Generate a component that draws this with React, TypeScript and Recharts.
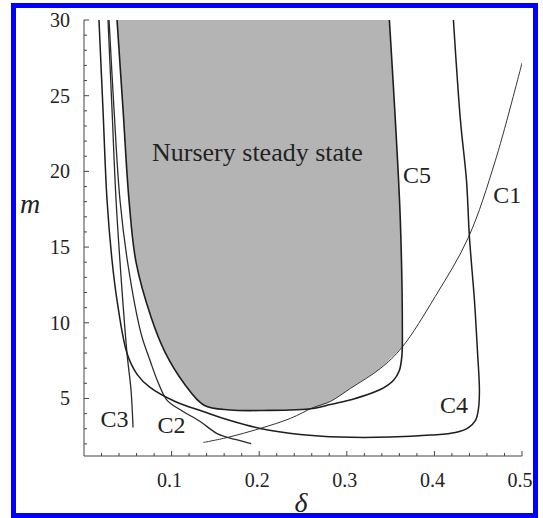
import React from 'react';
import { ComposedChart, Line, Area, XAxis, YAxis, ReferenceDot } from 'recharts';

// axis ticks
const xTicks = [0.02, 0.04, 0.06, 0.08, 0.1, 0.12, 0.14, 0.16, 0.18, 0.2, 0.22, 0.24, 0.26, 0.28, 0.3, 0.32, 0.34, 0.36, 0.38, 0.4, 0.42, 0.44, 0.46, 0.48, 0.5];
const xMajor = [0.1, 0.2, 0.3, 0.4, 0.5];
const xMajorLabels = ['0.1', '0.2', '0.3', '0.4', '0.5'];
const yTicks = [2, 3, 4, 5, 6, 7, 8, 9, 10, 11, 12, 13, 14, 15, 16, 17, 18, 19, 20, 21, 22, 23, 24, 25, 26, 27, 28, 29, 30];
const yMajor = [5, 10, 15, 20, 25, 30];
const yMajorLabels = ['5', '10', '15', '20', '25', '30'];

// curves (delta, m)
const c1 = [
  { d: 0.136, m: 2.09 }, { d: 0.1634, m: 2.42 }, { d: 0.2011, m: 3.02 }, { d: 0.2354, m: 3.68 },
  { d: 0.2617, m: 4.4 }, { d: 0.2811, m: 4.8 }, { d: 0.304, m: 5.66 }, { d: 0.3383, m: 6.98 },
  { d: 0.3629, m: 8.37 }, { d: 0.4011, m: 11.75 }, { d: 0.4389, m: 15.65 }, { d: 0.4697, m: 20.74 },
  { d: 0.5, m: 27.16 },
];
const c2 = [
  { d: 0.0286, m: 30 }, { d: 0.0343, m: 24.05 }, { d: 0.0411, m: 18.09 }, { d: 0.0503, m: 13.8 },
  { d: 0.0651, m: 9.3 }, { d: 0.0754, m: 7.51 }, { d: 0.0846, m: 6.06 }, { d: 0.0949, m: 4.87 },
  { d: 0.1131, m: 4.14 }, { d: 0.1326, m: 3.48 }, { d: 0.152, m: 2.68 }, { d: 0.1726, m: 2.29 },
  { d: 0.1909, m: 2.02 },
];
const c3 = [
  { d: 0.0274, m: 30 }, { d: 0.032, m: 24.05 }, { d: 0.0366, m: 18.09 }, { d: 0.0434, m: 12.14 },
  { d: 0.0491, m: 7.98 }, { d: 0.0537, m: 5.53 }, { d: 0.056, m: 3.08 },
];
const c4 = [
  { d: 0.0171, m: 30 }, { d: 0.0217, m: 24.05 }, { d: 0.0263, m: 18.09 }, { d: 0.032, m: 14.13 },
  { d: 0.0377, m: 11.48 }, { d: 0.0491, m: 7.98 }, { d: 0.0606, m: 6.59 }, { d: 0.0754, m: 5.73 },
  { d: 0.104, m: 4.8 }, { d: 0.136, m: 4.14 }, { d: 0.1669, m: 3.54 }, { d: 0.2011, m: 3.02 },
  { d: 0.2469, m: 2.62 }, { d: 0.2926, m: 2.45 }, { d: 0.3497, m: 2.45 }, { d: 0.3954, m: 2.58 },
  { d: 0.424, m: 2.75 }, { d: 0.4389, m: 3.08 }, { d: 0.4469, m: 3.55 }, { d: 0.4503, m: 4.33 },
  { d: 0.4514, m: 5.53 }, { d: 0.4491, m: 8.18 }, { d: 0.4457, m: 11.49 }, { d: 0.44, m: 15.65 },
  { d: 0.4366, m: 19.42 }, { d: 0.4297, m: 23.39 }, { d: 0.4217, m: 30 },
];
const c5 = [
  { d: 0.0377, m: 30 }, { d: 0.0446, m: 24.05 }, { d: 0.0514, m: 18.09 }, { d: 0.0594, m: 14.0 },
  { d: 0.0766, m: 10.36 }, { d: 0.0926, m: 8.04 }, { d: 0.1143, m: 5.99 }, { d: 0.1371, m: 4.55 },
  { d: 0.1669, m: 4.24 }, { d: 0.2057, m: 4.21 }, { d: 0.2617, m: 4.34 }, { d: 0.2811, m: 4.6 },
  { d: 0.3097, m: 5.0 }, { d: 0.3383, m: 5.59 }, { d: 0.3531, m: 6.19 }, { d: 0.36, m: 6.85 },
  { d: 0.3629, m: 7.84 }, { d: 0.3634, m: 9.5 }, { d: 0.3611, m: 16.77 }, { d: 0.3554, m: 23.39 },
  { d: 0.3486, m: 30 },
];

// shaded region (inside C5 and above C1): lower and upper bounds; the top runs above the plot and is clipped
const shadeD = [0.0307, 0.0377, 0.0446, 0.0514, 0.0594, 0.0766, 0.0926, 0.1143, 0.1371, 0.1669, 0.2057, 0.2617, 0.2811, 0.304, 0.3383, 0.3424, 0.3486, 0.3554, 0.3611, 0.3629];
const shadeLow = [36, 30, 24.05, 18.09, 14.0, 10.36, 8.04, 5.99, 4.55, 4.24, 4.21, 4.37, 4.8, 5.66, 6.98, 7.2, 7.56, 7.94, 8.26, 8.37];
const shadeHigh = [36, 36, 36, 36, 36, 36, 36, 36, 36, 36, 36, 36, 36, 36, 36, 36, 30, 23.39, 16.77, 8.37];
const shade = shadeD.map((d, i) => ({ d, r: [shadeLow[i], shadeHigh[i]] }));

// curve labels
const curveLabels = [
  { text: 'C1', d: 0.4672, m: 17.89 },
  { text: 'C2', d: 0.0839, m: 2.72 },
  { text: 'C3', d: 0.0188, m: 3.12 },
  { text: 'C4', d: 0.4064, m: 4.04 },
  { text: 'C5', d: 0.3642, m: 19.21 },
];
const regionLabel = { text: 'Nursery steady state', d: 0.198, m: 20.69 };

const FONT = '"Liberation Serif", "Times New Roman", serif';
const INK = '#222';

// centripetal Catmull-Rom curve factory (d3 CurveFactory interface)
function smoothCurve(context: any) {
  let pts: number[][] = [];
  let line: number = NaN;
  const eps = 1e-9;
  return {
    areaStart() { line = 0; },
    areaEnd() { line = NaN; },
    lineStart() { pts = []; },
    lineEnd() {
      const n = pts.length;
      if (n > 0) {
        if (line) context.lineTo(pts[0][0], pts[0][1]);
        else context.moveTo(pts[0][0], pts[0][1]);
        if (n === 2) context.lineTo(pts[1][0], pts[1][1]);
        else if (n > 2) {
          for (let i = 0; i < n - 1; i++) {
            const p1 = pts[i];
            const p2 = pts[i + 1];
            const p0 = i > 0 ? pts[i - 1] : p1;
            const p3 = i + 2 < n ? pts[i + 2] : p2;
            const d01 = Math.hypot(p1[0] - p0[0], p1[1] - p0[1]);
            const d12 = Math.hypot(p2[0] - p1[0], p2[1] - p1[1]);
            const d23 = Math.hypot(p3[0] - p2[0], p3[1] - p2[1]);
            const a01 = Math.sqrt(d01), a12 = Math.sqrt(d12), a23 = Math.sqrt(d23);
            let c1x = p1[0], c1y = p1[1], c2x = p2[0], c2y = p2[1];
            if (a01 > eps) {
              const A = 2 * d01 + 3 * a01 * a12 + d12;
              const N = 3 * a01 * (a01 + a12);
              c1x = (p1[0] * A - p0[0] * d12 + p2[0] * d01) / N;
              c1y = (p1[1] * A - p0[1] * d12 + p2[1] * d01) / N;
            }
            if (a23 > eps) {
              const B = 2 * d23 + 3 * a23 * a12 + d12;
              const M = 3 * a23 * (a23 + a12);
              c2x = (p2[0] * B + p1[0] * d23 - p3[0] * d12) / M;
              c2y = (p2[1] * B + p1[1] * d23 - p3[1] * d12) / M;
            }
            context.bezierCurveTo(c1x, c1y, c2x, c2y, p2[0], p2[1]);
          }
        }
      }
      if (line || (line !== 0 && n === 1)) context.closePath();
      line = 1 - line;
    },
    point(x: number, y: number) { pts.push([+x, +y]); },
  };
}

const XTick = (props: any) => {
  const { x, y, payload } = props;
  const idx = xMajor.findIndex((t) => Math.abs(t - payload.value) < 1e-6);
  const major = idx >= 0;
  return (
    <g>
      <line x1={x} x2={x} y1={y} y2={y - (major ? 5 : 3)} stroke="#444" strokeWidth={1} />
      {major && (
        <text x={x - 2} y={y + 31} textAnchor="middle" fontSize={20} fontFamily={FONT} fill={INK}>
          {xMajorLabels[idx]}
        </text>
      )}
    </g>
  );
};

const YTick = (props: any) => {
  const { x, y, payload } = props;
  const idx = yMajor.findIndex((t) => Math.abs(t - payload.value) < 1e-6);
  const major = idx >= 0;
  return (
    <g>
      <line x1={x} x2={x + (major ? 5 : 3)} y1={y} y2={y} stroke="#444" strokeWidth={1} />
      {major && (
        <text x={x - 14} y={y + 7} textAnchor="end" fontSize={20} fontFamily={FONT} fill={INK}>
          {yMajorLabels[idx]}
        </text>
      )}
    </g>
  );
};

const textShape = (text: string, size: number, anchor: string) => (p: any) => (
  <text x={p.cx} y={p.cy} textAnchor={anchor} fontSize={size} fontFamily={FONT} fill={INK}>
    {text}
  </text>
);

export default function App() {
  return (
    <div style={{ position: 'absolute', left: 0, top: 0, width: 543, height: 518, background: '#fff' }}>
      <ComposedChart
        width={543}
        height={518}
        data={shade}
        margin={{ top: 20, right: 21, bottom: 22, left: 0 }}
      >
        <XAxis
          dataKey="d"
          type="number"
          domain={[0, 0.5]}
          allowDataOverflow
          ticks={xTicks}
          interval={0}
          tickSize={0}
          tickMargin={0}
          tickLine={false}
          tick={<XTick />}
          height={40}
          axisLine={{ stroke: '#444', strokeWidth: 1 }}
          label={{
            content: (p: any) => {
              const vb = p.viewBox || { x: 84, y: 456, width: 438 };
              return (
                <text x={vb.x + 217} y={vb.y + 56} textAnchor="middle" fontSize={28} fontStyle="italic" fontFamily={FONT} fill={INK}>
                  δ
                </text>
              );
            },
          }}
        />
        <YAxis
          type="number"
          domain={[1.2, 30]}
          allowDataOverflow
          ticks={yTicks}
          interval={0}
          tickSize={0}
          tickMargin={0}
          tickLine={false}
          tick={<YTick />}
          width={84}
          axisLine={{ stroke: '#444', strokeWidth: 1 }}
          label={{
            content: (p: any) => {
              const vb = p.viewBox || { x: 0, y: 20 };
              return (
                <text x={vb.x + 30} y={vb.y + 193} textAnchor="middle" fontSize={28} fontStyle="italic" fontFamily={FONT} fill={INK}>
                  m
                </text>
              );
            },
          }}
        />
        <Area dataKey="r" type={smoothCurve as any} fill="#b4b4b4" fillOpacity={1} stroke="none" isAnimationActive={false} />
        <Line data={c1} dataKey="m" type={smoothCurve as any} stroke="#333" strokeWidth={1} dot={false} isAnimationActive={false} />
        <Line data={c2} dataKey="m" type={smoothCurve as any} stroke="#2a2a2a" strokeWidth={1.3} dot={false} isAnimationActive={false} />
        <Line data={c3} dataKey="m" type={smoothCurve as any} stroke="#2a2a2a" strokeWidth={1.3} dot={false} isAnimationActive={false} />
        <Line data={c4} dataKey="m" type={smoothCurve as any} stroke="#1e1e1e" strokeWidth={1.5} dot={false} isAnimationActive={false} />
        <Line data={c5} dataKey="m" type={smoothCurve as any} stroke="#1e1e1e" strokeWidth={1.6} dot={false} isAnimationActive={false} />
        <ReferenceDot
          x={regionLabel.d}
          y={regionLabel.m}
          r={0}
          ifOverflow="visible"
          shape={textShape(regionLabel.text, 26, 'middle')}
        />
        {curveLabels.map((l) => (
          <ReferenceDot key={l.text} x={l.d} y={l.m} r={0} ifOverflow="visible" shape={textShape(l.text, 24, 'start')} />
        ))}
      </ComposedChart>
      <div
        style={{
          position: 'absolute',
          left: 11,
          top: 3,
          width: 527,
          height: 515,
          border: '5px solid #0000ff',
          boxSizing: 'border-box',
          pointerEvents: 'none',
        }}
      />
    </div>
  );
}
